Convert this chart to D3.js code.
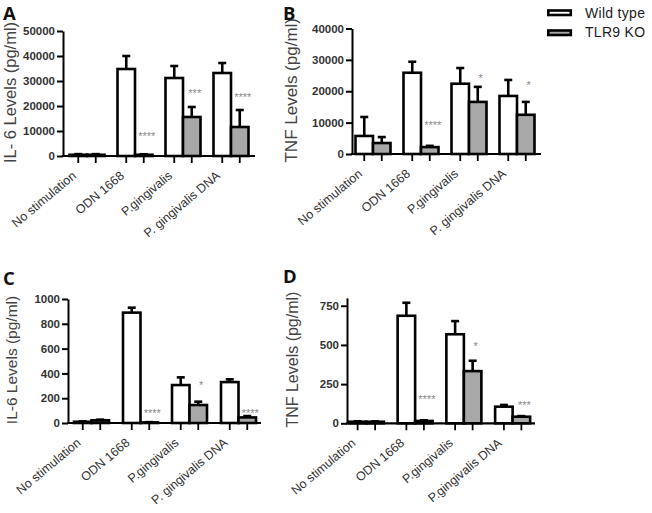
<!DOCTYPE html>
<html>
<head>
<meta charset="utf-8">
<script src="https://cdn.jsdelivr.net/npm/d3@7"></script>
<style>
  html, body { margin: 0; padding: 0; background: #fff; }
  svg { display: block; }
</style>
</head>
<body>
<svg id="chart" width="652" height="513"></svg>
<script>
// ---------- DATA ----------
const seriesNames = ["Wild type", "TLR9 KO"];

const catsA = ["No stimulation", "ODN 1668", "P.gingivalis", "P. gingivalis DNA"];
const catsB = ["No stimulation", "ODN 1668", "P.gingivalis", "P. gingivalis DNA"];
const catsC = ["No stimulation", "ODN 1668", "P.gingivalis", "P. gingivalis DNA"];
const catsD = ["No stimulation", "ODN 1668", "P.gingivalis", "P.gingivalis DNA"];

// Panel A: IL-6 (pg/ml)
const aWT = [500, 34800, 31200, 33200];
const aWTErr = [250, 5200, 4800, 4000];
const aKO = [500, 500, 15600, 11600];
const aKOErr = [250, 200, 4000, 6800];
const aSig = ["", "****", "***", "****"];
const aSigY = [0, 9200, 26400, 24800];
const aTicks = [0, 10000, 20000, 30000, 40000, 50000];

// Panel B: TNF (pg/ml)
const bWT = [5750, 25900, 22400, 18500];
const bWTErr = [6050, 3500, 5000, 5100];
const bKO = [3500, 2200, 16600, 12500];
const bKOErr = [1900, 400, 4800, 4100];
const bSig = ["", "****", "*", "*"];
const bSigY = [0, 9900, 24900, 22700];
const bTicks = [0, 10000, 20000, 30000, 40000];

// Panel C: IL-6 (pg/ml)
const cWT = [10, 890, 306, 330];
const cWTErr = [3, 40, 62, 22];
const cKO = [22, 5, 145, 45];
const cKOErr = [5, 2, 27, 11];
const cSig = ["", "****", "*", "****"];
const cSigY = [0, 97, 323, 97];
const cTicks = [0, 200, 400, 600, 800, 1000];

// Panel D: TNF (pg/ml)
const dWT = [10, 686, 568, 106];
const dWTErr = [3, 83, 84, 11];
const dKO = [10, 15, 333, 42];
const dKOErr = [2, 4, 66, 4];
const dSig = ["", "****", "*", "***"];
const dSigY = [0, 170, 512, 130];
const dTicks = [0, 250, 500, 750];

// ---------- LAYOUT ----------
const panels = [
  { letter: "A", lx: 3, ly: 20, cats: catsA, wt: aWT, wtErr: aWTErr, ko: aKO, koErr: aKOErr, sig: aSig, sigY: aSigY, ticks: aTicks,
    yMax: 50000, title: "IL- 6 Levels (pg/ml)", titleX: 16, titleSize: 16.5,
    axisX: 63, xEnd: 255, y0: 156, yTop: 31, band: [63, 255] },
  { letter: "B", lx: 283, ly: 20, cats: catsB, wt: bWT, wtErr: bWTErr, ko: bKO, koErr: bKOErr, sig: bSig, sigY: bSigY, ticks: bTicks,
    yMax: 40000, title: "TNF Levels (pg/ml)", titleX: 297, titleSize: 17,
    axisX: 352, xEnd: 541, y0: 154, yTop: 28.5, band: [349, 541] },
  { letter: "C", lx: 3, ly: 285, cats: catsC, wt: cWT, wtErr: cWTErr, ko: cKO, koErr: cKOErr, sig: cSig, sigY: cSigY, ticks: cTicks,
    yMax: 1000, title: "IL-6 Levels (pg/ml)", titleX: 17, titleSize: 15.5,
    axisX: 68, xEnd: 261, y0: 423, yTop: 299, band: [67, 263] },
  { letter: "D", lx: 283, ly: 283, cats: catsD, wt: dWT, wtErr: dWTErr, ko: dKO, koErr: dKOErr, sig: dSig, sigY: dSigY, ticks: dTicks,
    yMax: 800, title: "TNF Levels (pg/ml)", titleX: 298, titleSize: 16,
    axisX: 347, xEnd: 535, y0: 423.3, yTop: 297.9, band: [342, 537] }
];

const FONT = "'Liberation Sans', Arial, Helvetica, sans-serif";
const barW = 17.5;
const SW = 2.6;
const koFill = "#a8a8a8";

const svg = d3.select("#chart");

panels.forEach(p => {
  const g = svg.append("g");
  const x = d3.scaleBand().domain(p.cats).range(p.band);
  const xs = d3.scaleBand().domain(seriesNames).range([-barW, barW]);
  const y = d3.scaleLinear().domain([0, p.yMax]).range([p.y0, p.yTop]);

  const rows = [];
  p.cats.forEach((c, i) => {
    rows.push({ cat: c, s: seriesNames[0], v: p.wt[i], e: p.wtErr[i], fill: "#fff" });
    rows.push({ cat: c, s: seriesNames[1], v: p.ko[i], e: p.koErr[i], fill: koFill });
  });
  const cx = d => x(d.cat) + x.bandwidth() / 2 + xs(d.s) + xs.bandwidth() / 2;

  // error bars (upper only)
  g.selectAll(".err").data(rows).enter().append("line")
    .attr("x1", cx).attr("x2", cx)
    .attr("y1", d => y(d.v)).attr("y2", d => y(d.v + d.e))
    .attr("stroke", "#000").attr("stroke-width", SW);
  g.selectAll(".cap").data(rows).enter().append("line")
    .attr("x1", d => cx(d) - 4).attr("x2", d => cx(d) + 4)
    .attr("y1", d => y(d.v + d.e)).attr("y2", d => y(d.v + d.e))
    .attr("stroke", "#000").attr("stroke-width", SW);

  // bars
  g.selectAll(".bar").data(rows).enter().append("rect")
    .attr("x", d => x(d.cat) + x.bandwidth() / 2 + xs(d.s))
    .attr("width", xs.bandwidth())
    .attr("y", d => y(d.v))
    .attr("height", d => Math.max(0, y(0) - y(d.v)))
    .attr("fill", d => d.fill)
    .attr("stroke", "#000").attr("stroke-width", SW);

  // y axis
  const yAxis = g.append("g").attr("transform", `translate(${p.axisX},0)`)
    .call(d3.axisLeft(y).tickValues(p.ticks).tickFormat(d3.format("d")).tickSize(6).tickSizeOuter(0).tickPadding(2));
  yAxis.select(".domain").attr("stroke", "#000").attr("stroke-width", 2);
  yAxis.selectAll(".tick line").attr("stroke", "#000").attr("stroke-width", 2);
  yAxis.selectAll(".tick text").attr("font-family", FONT).attr("font-size", 11.5)
    .attr("font-weight", "bold").attr("fill", "#333");

  // x axis line
  g.append("line").attr("x1", p.axisX - 1).attr("x2", p.xEnd)
    .attr("y1", y(0)).attr("y2", y(0))
    .attr("stroke", "#000").attr("stroke-width", 2.2);
  // x ticks at each bar
  g.selectAll(".xt").data(rows).enter().append("line")
    .attr("x1", cx).attr("x2", cx)
    .attr("y1", y(0)).attr("y2", y(0) + 7)
    .attr("stroke", "#000").attr("stroke-width", 1.8);

  // category labels
  g.selectAll(".cl").data(p.cats).enter().append("text")
    .attr("transform", c => `translate(${x(c) + x.bandwidth() / 2 - 10},${y(0) + 21}) rotate(-40)`)
    .attr("text-anchor", "end")
    .attr("font-family", FONT).attr("font-size", 12.5).attr("fill", "#333")
    .text(c => c);

  // significance stars
  g.selectAll(".sig").data(p.cats).enter().append("text")
    .attr("x", c => x(c) + x.bandwidth() / 2 + xs(seriesNames[1]) + xs.bandwidth() / 2 + 3)
    .attr("y", (c, i) => y(p.sigY[i]) + 6.5)
    .attr("text-anchor", "middle")
    .attr("font-family", FONT).attr("font-size", 11).attr("fill", "#888")
    .text((c, i) => p.sig[i]);

  // axis title
  g.append("text")
    .attr("transform", `translate(${p.titleX},${(p.y0 + p.yTop) / 2 - 1}) rotate(-90)`)
    .attr("text-anchor", "middle")
    .attr("font-family", FONT).attr("font-size", p.titleSize).attr("fill", "#444")
    .text(p.title);

  // panel letter
  g.append("text").attr("x", p.lx).attr("y", p.ly)
    .attr("font-family", "'Open Sans', 'Liberation Sans', sans-serif").attr("font-weight", "bold")
    .attr("font-size", 18.5).attr("fill", "#111")
    .text(p.letter);
});

// legend
const legend = svg.append("g");
const legendFills = ["#fff", koFill];
legend.selectAll("rect").data(seriesNames).enter().append("rect")
  .attr("x", 548.3).attr("y", (d, i) => 10.5 + i * 20)
  .attr("width", 22.5).attr("height", 4.5)
  .attr("fill", (d, i) => legendFills[i])
  .attr("stroke", "#000").attr("stroke-width", 2.6);
legend.selectAll("text").data(seriesNames).enter().append("text")
  .attr("x", 585).attr("y", (d, i) => 18 + i * 18.7)
  .attr("font-family", FONT).attr("font-size", 14).attr("fill", "#222")
  .attr("letter-spacing", 0.3)
  .text(d => d);
</script>
</body>
</html>
